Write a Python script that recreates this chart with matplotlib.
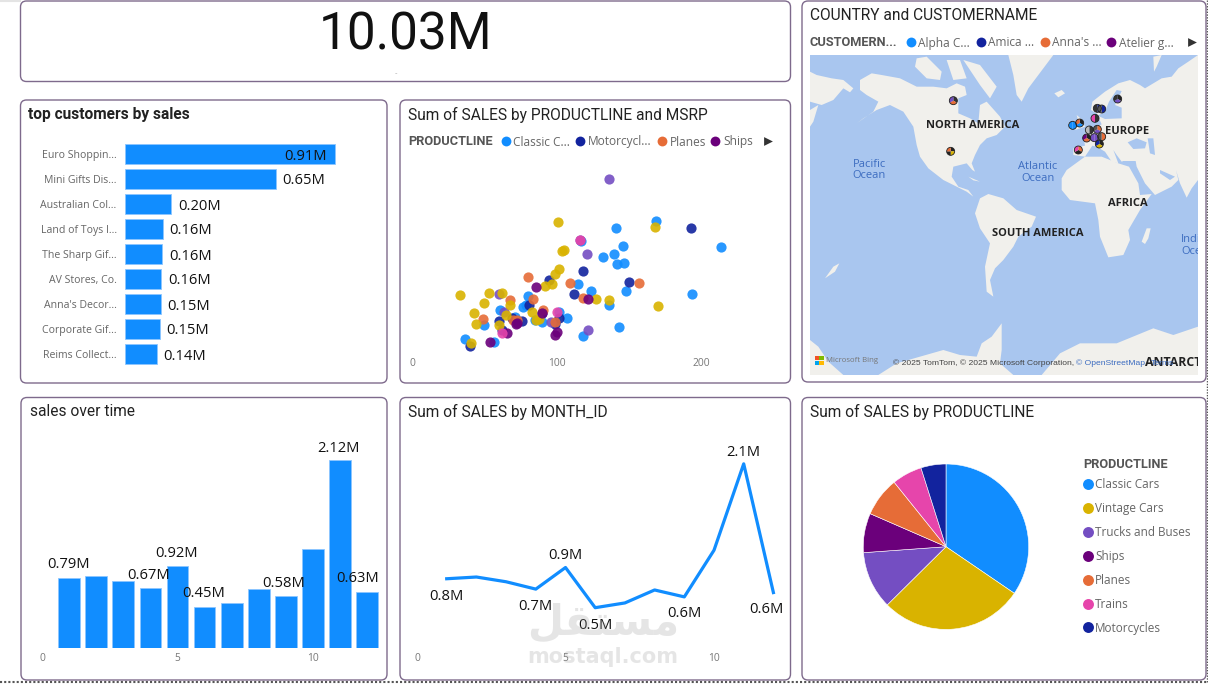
import matplotlib
matplotlib.use('Agg')
import matplotlib.pyplot as plt
from matplotlib.patches import FancyBboxPatch, Polygon, Wedge, Circle, Rectangle

W, H = 1208, 684

# KPI
total_sales = '10.03M'

# top customers
customers = ['Euro Shoppin...', 'Mini Gifts Dis...', 'Australian Col...', 'Land of Toys I...', 'The Sharp Gif...',
             'AV Stores, Co.', "Anna's Decor...", 'Corporate Gif...', 'Reims Collect...']
customer_sales = [0.912, 0.655, 0.201, 0.164, 0.160, 0.158, 0.155, 0.151, 0.138]
customer_labels = ['0.91M', '0.65M', '0.20M', '0.16M', '0.16M', '0.16M', '0.15M', '0.15M', '0.14M']

# monthly sales
months = [1, 2, 3, 4, 5, 6, 7, 8, 9, 10, 11, 12]
month_sales = [0.79, 0.81, 0.755, 0.67, 0.92, 0.455, 0.51, 0.66, 0.58, 1.12, 2.12, 0.63]
bar_label_months = [1, 4, 5, 6, 9, 11, 12]
bar_label_texts = ['0.79M', '0.67M', '0.92M', '0.45M', '0.58M', '2.12M', '0.63M']
line_label_texts = ['0.8M', '0.7M', '0.9M', '0.5M', '0.6M', '2.1M', '0.6M']

# product lines, pie
product_lines = ['Classic Cars', 'Vintage Cars', 'Trucks and Buses', 'Ships', 'Planes', 'Trains', 'Motorcycles']
product_sales = [3.46, 2.81, 1.13, 0.77, 0.77, 0.59, 0.49]
product_colors = ['#118DFF', '#D9B300', '#744EC2', '#6B007B', '#E66C37', '#E645AB', '#12239E']

# scatter, MSRP / sum of sales
classic_x = [169, 141, 214, 146, 140, 132, 142, 147, 115, 124, 148, 194, 136, 143, 118, 117, 80, 77, 61, 71, 107, 85, 90, 102, 50, 37, 57, 79]
classic_y = [408, 387, 329, 331, 309, 298, 279, 281, 217, 196, 198, 188, 155, 90, 62, 347, 181, 148, 140, 120, 115, 110, 105, 133, 96, 54, 43, 155]
motor_x = [193, 118, 150, 95, 112, 81, 60, 69, 76, 102, 99, 62, 40, 90]
motor_y = [387, 257, 223, 229, 188, 156, 108, 116, 106, 116, 98, 80, 33, 130]
trucks_x = [136, 116, 121, 60, 64, 96, 122]
trucks_y = [534, 351, 307, 189, 134, 104, 81]
planes_x = [80, 109, 157, 118, 84, 68, 91, 49, 73, 99, 70]
planes_y = [238, 221, 220, 175, 174, 171, 140, 114, 110, 103, 110]
vintage_x = [101, 168, 104, 105, 102, 99, 97, 92, 53, 62, 33, 50, 68, 127, 136, 170, 83, 43, 65, 86, 88, 44, 60, 41]
vintage_y = [403, 388, 318, 319, 262, 247, 218, 212, 192, 192, 184, 160, 155, 172, 169, 153, 133, 132, 124, 111, 112, 98, 94, 42]
ships_x = [86, 122, 90, 72, 66, 54, 100, 99, 73]
ships_y = [209, 172, 130, 99, 70, 44, 74, 65, 102]
trains_x = [100, 62, 116]
trains_y = [135, 71, 350]

# map outlines
north_america = [(180, 270), (180, 240), (215, 220), (245, 225), (300, 235), (350, 260), (400, 260), (440, 265), (470, 250), (495, 260),
                 (500, 285), (475, 295), (475, 340), (510, 355), (535, 370), (540, 315), (560, 305), (600, 350), (615, 380), (590, 405),
                 (560, 415), (540, 435), (525, 465), (515, 490), (525, 515), (517, 510), (500, 490), (460, 500), (455, 530), (475, 560),
                 (505, 570), (520, 590), (500, 575), (470, 560), (430, 540), (385, 505), (360, 470), (350, 435), (340, 380), (310, 335),
                 (270, 315), (230, 330), (190, 355), (170, 370), (220, 335), (235, 305), (200, 285)]
arctic_a = [(350, 175), (380, 170), (425, 215), (420, 240), (380, 235), (345, 200)]
arctic_b = [(440, 180), (480, 180), (500, 235), (460, 240)]
arctic_c = [(490, 180), (540, 195), (590, 260), (570, 295), (540, 255)]
greenland = [(625, 165), (760, 165), (745, 185), (715, 225), (685, 265), (665, 305), (650, 285), (640, 225)]
iceland = [(763, 280), (785, 270), (795, 280), (775, 292)]
cuba = [(505, 530), (540, 545), (520, 541)]
south_america = [(525, 640), (540, 595), (565, 582), (610, 595), (650, 630), (708, 650), (695, 680), (655, 710), (640, 740), (610, 780),
                 (585, 805), (570, 840), (580, 890), (560, 875), (555, 800), (570, 730), (540, 685)]
africa = [(785, 535), (800, 510), (855, 470), (905, 470), (955, 490), (987, 500), (1015, 550), (1020, 585), (1055, 582), (1020, 630),
          (985, 690), (990, 720), (970, 765), (925, 772), (900, 710), (895, 660), (885, 610), (810, 600), (785, 570)]
madagascar = [(1025, 725), (1040, 685), (1052, 685), (1045, 715), (1035, 732)]
eurasia = [(820, 465), (820, 445), (855, 437), (850, 405), (880, 387), (905, 373), (890, 340), (873, 330), (877, 305), (915, 275),
           (955, 250), (990, 240), (1020, 255), (1035, 265), (1085, 235), (1115, 230), (1135, 205), (1165, 185), (1194, 165),
           (1194, 540), (1175, 565), (1160, 593), (1140, 550), (1128, 510), (1135, 540), (1115, 560), (1065, 585), (1035, 550),
           (1010, 500), (1007, 483), (970, 483), (965, 485), (950, 465), (940, 450), (955, 490), (935, 485), (915, 455), (890, 440),
           (877, 437), (865, 455), (855, 470)]
novaya = [(1060, 170), (1085, 165), (1070, 200), (1062, 215)]
britain = [(830, 345), (847, 360), (855, 380), (825, 390), (837, 370)]
ireland = [(805, 370), (825, 362), (825, 385), (808, 390)]
new_zealand = [(75, 835), (100, 800), (118, 790), (105, 815)]
antarctica_left = [(30, 1020), (55, 1040), (85, 1085), (130, 1125), (30, 1125)]
antarctica_mid = [(235, 1125), (290, 1090), (430, 1050), (480, 1065), (530, 1070), (545, 1030), (575, 1010), (605, 970), (605, 1050),
                  (600, 1090), (640, 1125)]
antarctica_right = [(725, 1125), (780, 1060), (840, 1030), (950, 1030), (1060, 985), (1120, 1005), (1194, 980), (1194, 1125)]
chukotka = [(30, 215), (50, 225), (95, 235), (130, 240), (160, 265), (150, 277), (130, 265), (100, 300), (65, 315), (30, 305)]
kamchatka = [(55, 315), (40, 365), (30, 380), (30, 330)]
land_shapes = [north_america, arctic_a, arctic_b, arctic_c, greenland, iceland, cuba, south_america, africa, madagascar, eurasia, novaya,
               britain, ireland, new_zealand, antarctica_left, antarctica_mid, antarctica_right, chukotka, kamchatka]

baltic = [(893, 347), (915, 335), (927, 305), (950, 270), (965, 273), (945, 315), (965, 323), (965, 355), (915, 357)]
black_sea = [(983, 427), (1010, 415), (1040, 427), (1035, 445), (1000, 447)]
caspian = [(1043, 415), (1060, 415), (1065, 465), (1050, 460)]
persian_gulf = [(1080, 510), (1125, 530), (1110, 540), (1080, 520)]
water_shapes = [baltic, black_sea, caspian, persian_gulf]

# customer bubbles on the map
bubble_x = [460, 452, 953, 892, 905, 885, 839, 818, 868, 892, 860, 883, 905, 898, 835]
bubble_y = [302, 454, 297, 325, 327, 355, 369, 376, 390, 388, 414, 413, 410, 432, 450]
bubble_colors = [['#333333', '#E66C37', '#744EC2'], ['#222222', '#D9B300', '#222222', '#E66C37'], ['#222222', '#744EC2', '#333333'],
                 ['#12239E', '#333333'], ['#12239E', '#555555'], ['#333333', '#E645AB'], ['#222222', '#118DFF', '#E66C37'],
                 ['#118DFF', '#118DFF'], ['#333333', '#BBBBBB'], ['#E66C37', '#744EC2', '#555555'], ['#222222', '#E66C37', '#6B007B'],
                 ['#744EC2', '#744EC2'], ['#E66C37', '#555555'], ['#222222', '#D9B300', '#12239E'], ['#E66C37', '#222222', '#E645AB']]

TITLE_FONT = 'Roboto'
LABEL_FONT = 'Open Sans'
GREY = '#666666'
EDGE = '#7E6A8C'
OCEAN = '#A9C6EF'


def px_axes(x0, y0, x1, y1):
    ax = fig.add_axes([x0 / W, 1 - y1 / H, (x1 - x0) / W, (y1 - y0) / H])
    ax.patch.set_visible(False)
    for s in ax.spines.values():
        s.set_visible(False)
    return ax


fig = plt.figure(figsize=(W / 100, H / 100), dpi=100, facecolor='white')

# backdrop with the cards, titles and legends in pixel coordinates
bg = fig.add_axes([0, 0, 1, 1])
bg.set_xlim(0, W)
bg.set_ylim(H, 0)
bg.axis('off')

cards = [(20.5, 1, 790.5, 81.5), (20.5, 100, 387, 383), (400, 100, 790.5, 383), (802, 1, 1206, 382),
         (21, 397.5, 387, 680), (400, 397.5, 790.5, 680), (802, 397.5, 1206, 680)]
for x0, y0, x1, y1 in cards:
    bg.add_patch(FancyBboxPatch((x0, y0), x1 - x0, y1 - y0, boxstyle='round,pad=0,rounding_size=6',
                                fc='white', ec=EDGE, lw=1))

bg.plot([0, 1206.5], [681.5, 681.5], color='#555555', lw=1.5, ls=(0, (1, 1)))
bg.plot([1206.5, 1206.5], [0, 681.5], color='#555555', lw=1, ls=(0, (1, 1)))
bg.plot([0, 20], [0.5, 0.5], color='#E4E4E4', lw=1.5)

bg.text(406, 35, total_sales, ha='center', va='center', fontsize=37, family=TITLE_FONT, color='#111111')
bg.text(396, 73, '-', ha='center', va='center', fontsize=5, color='#AAAAAA')

titles = [(28.5, 114.5, 'top customers by sales', 'bold'), (408, 114.5, 'Sum of SALES by PRODUCTLINE and MSRP', 'normal'),
          (810, 15, 'COUNTRY and CUSTOMERNAME', 'normal'), (30, 411.5, 'sales over time', 'normal'),
          (408, 411.5, 'Sum of SALES by MONTH_ID', 'normal'), (810, 411.5, 'Sum of SALES by PRODUCTLINE', 'normal')]
for x, y, t, weight in titles:
    bg.text(x, y, t, ha='left', va='center', fontsize=11.2, family=TITLE_FONT, weight=weight, color='#222222')


def inline_legend(title, tx, y, names, colors, mx, lx, arrow_x):
    bg.text(tx, y + 0.5, title, ha='left', va='center', fontsize=9.2, family=TITLE_FONT, weight='bold', color='#555555')
    for name, c, m, l in zip(names, colors, mx, lx):
        bg.scatter([m], [y], s=50, color=c, lw=0)
        bg.text(l, y + 1, name, ha='left', va='center', fontsize=8.6, family=LABEL_FONT, color='#666666')
    bg.scatter([arrow_x], [y], s=40, marker='>', color='#333333', lw=0)


inline_legend('PRODUCTLINE', 408, 141, ['Classic C...', 'Motorcycl...', 'Planes', 'Ships'],
              ['#118DFF', '#12239E', '#E66C37', '#6B007B'], [506, 580, 662, 715], [513, 588, 670, 723], 768)
inline_legend('CUSTOMERN...', 810, 42, ['Alpha C...', 'Amica ...', "Anna's ...", 'Atelier g...'],
              ['#118DFF', '#12239E', '#E66C37', '#6B007B'], [911, 980.5, 1045, 1111], [918, 988, 1052, 1119], 1192)

# pie legend
bg.text(1083, 464.5, 'PRODUCTLINE', ha='left', va='center', fontsize=9.2, family=TITLE_FONT, weight='bold', color='#555555')
for i, (name, c) in enumerate(zip(product_lines, product_colors)):
    yy = 484 + i * 23.9
    bg.scatter([1088], [yy], s=62, color=c, lw=0)
    bg.text(1095, yy + 1, name, ha='left', va='center', fontsize=8.5, family=LABEL_FONT, color='#666666')

# top customers
ax = px_axes(125, 141.5, 375, 366.5)
ax.barh(range(len(customers)), customer_sales, height=0.8, color='#118DFF', edgecolor='#8CC6FF', lw=0.6)
ax.set_xlim(0, 250 / 230)
ax.set_ylim(8.5, -0.5)
ax.set_xticks([])
ax.set_yticks(range(len(customers)), customers, fontsize=7.6, family=LABEL_FONT, color=GREY)
ax.tick_params(axis='y', length=0, pad=6)
for i, (v, t) in enumerate(zip(customer_sales, customer_labels)):
    if v > 0.9:
        ax.annotate(t, (v, i), xytext=(-8, -2), textcoords='offset pixels', ha='right', va='center', fontsize=10.6, family=LABEL_FONT, color='#111111')
    else:
        ax.annotate(t, (v, i), xytext=(7, -2), textcoords='offset pixels', ha='left', va='center', fontsize=10.6, family=LABEL_FONT, color='#111111')

# scatter
ax = px_axes(412, 160, 785, 356.7)
for xs, ys, c in [(classic_x, classic_y, '#118DFF'), (motor_x, motor_y, '#12239E'), (trucks_x, trucks_y, '#744EC2'),
                  (planes_x, planes_y, '#E66C37'), (vintage_x, vintage_y, '#D9B300'), (ships_x, ships_y, '#6B007B'),
                  (trains_x, trains_y, '#E645AB')]:
    ax.scatter(xs, ys, s=54, color=c, alpha=0.9, lw=0, clip_on=False)
ax.set_xlim(0, 373 / 1.445)
ax.set_ylim(0, 590)
ax.set_yticks([])
ax.set_xticks([0, 100, 200], ['0', '100', '200'], fontsize=7.4, family=LABEL_FONT, color='#777777')
ax.tick_params(axis='x', length=0, pad=1)

# sales over time
ax = px_axes(42, 425, 385, 647.7)
ax.bar(months, month_sales, width=0.8, color='#118DFF', edgecolor='#8CC6FF', lw=0.6)
ax.set_xlim(0, 343 / 27.1)
ax.set_ylim(0, 222.7 / 88.5)
ax.set_yticks([])
ax.set_xticks([0, 5, 10], ['0', '5', '10'], fontsize=7.4, family=LABEL_FONT, color='#777777')
ax.tick_params(axis='x', length=0, pad=4)
bar_offsets = [(-1, 13), (-2, 13), (-1, 13), (-1, 14), (-2, 12.5), (-2, 12), (-10, 13)]
for m, t, off in zip(bar_label_months, bar_label_texts, bar_offsets):
    ax.annotate(t, (m, month_sales[m - 1]), xytext=off, textcoords='offset pixels', ha='center', va='center',
                fontsize=10.6, family=LABEL_FONT, color='#111111', annotation_clip=False)

# line
ax = px_axes(417, 425, 785, 647)
ax.plot(months, month_sales, color='#118DFF', lw=2.3, solid_joinstyle='round')
ax.set_xlim(0, 368 / 29.7)
ax.set_ylim(0, 222 / 86.4)
ax.set_yticks([])
ax.set_xticks([0, 5, 10], ['0', '5', '10'], fontsize=7.4, family=LABEL_FONT, color='#777777')
ax.tick_params(axis='x', length=0, pad=4)
line_offsets = [(0, -18), (0, -17), (0, 12.5), (0, -18), (0, -17), (0, 11), (-7, -16.5)]
for m, t, off in zip(bar_label_months, line_label_texts, line_offsets):
    ax.annotate(t, (m, month_sales[m - 1]), xytext=off, textcoords='offset pixels', ha='center', va='center',
                fontsize=10.6, family=LABEL_FONT, color='#111111', annotation_clip=False)

# pie
ax = px_axes(946 - 82.7, 546.7 - 82.7, 946 + 82.7, 546.7 + 82.7)
ax.pie(product_sales, colors=product_colors, startangle=90, counterclock=False, radius=1,
       wedgeprops={'lw': 0.4, 'edgecolor': 'white'})
ax.set_xlim(-1, 1)
ax.set_ylim(-1, 1)

# map, in 3x zoom coordinates of the basemap
ax = px_axes(810, 55, 1198, 375)
ax.patch.set_visible(True)
ax.set_facecolor(OCEAN)
ax.set_xlim(30, 1194)
ax.set_ylim(1125, 165)
ax.set_xticks([])
ax.set_yticks([])
for shape in land_shapes:
    ax.add_patch(Polygon(shape, closed=True, fc='#F1F0EC', ec='none', joinstyle='round'))
for shape in water_shapes:
    ax.add_patch(Polygon(shape, closed=True, fc=OCEAN, ec='none'))
for bx, by, cols in zip(bubble_x, bubble_y, bubble_colors):
    step = 360 / len(cols)
    for j, c in enumerate(cols):
        ax.add_patch(Wedge((bx, by), 12, j * step - 90, (j + 1) * step - 90, fc=c, ec='none', zorder=3))
    ax.add_patch(Circle((bx, by), 12, fc='none', ec='#222222', lw=0.6, zorder=4))

for x, y, t in [(518, 378, 'NORTH AMERICA'), (982, 394, 'EUROPE'), (982, 609, 'AFRICA'), (714, 700, 'SOUTH AMERICA')]:
    ax.text(x, y, t, ha='center', va='center', fontsize=8, family=LABEL_FONT, weight='bold', color='#222222')
for x, y, t in [(208, 510, 'Pacific\nOcean'), (713, 518, 'Atlantic\nOcean')]:
    ax.text(x, y, t, ha='center', va='center', fontsize=8, family=LABEL_FONT, color='#3C6CC0', linespacing=1.1)
ax.text(1144, 737, 'Indian\nOcean', ha='left', va='center', fontsize=8, family=LABEL_FONT, color='#3C6CC0', linespacing=1.1, clip_on=True)
ax.text(1036, 1089, 'ANTARCTICA', ha='left', va='center', fontsize=8.8, family=LABEL_FONT, weight='bold', color='#222222', clip_on=True)
ax.text(280, 1090, '© 2025 TomTom, © 2025 Microsoft Corporation,', ha='left', va='center', fontsize=6.1, family='Liberation Sans', color='#444444')
ax.text(827, 1090, '© OpenStreetMap', ha='left', va='center', fontsize=6.1, family='Liberation Sans', color='#3C6CC0')
ax.text(1052, 1090, 'Terms', ha='left', va='center', fontsize=6.1, family='Liberation Sans', color='#3C6CC0')
ax.text(78, 1083, 'Microsoft Bing', ha='left', va='center', fontsize=5.6, family=LABEL_FONT, color='#777777')
for lx, ly, c in [(44, 1068, '#F25022'), (58, 1068, '#7FBA00'), (44, 1082, '#00A4EF'), (58, 1082, '#FFB900')]:
    ax.add_patch(Rectangle((lx, ly), 13, 13, fc=c, ec='none'))

# watermark
fig.text(603 / W, 1 - 622 / H, '\uFEDE\uFED8\uFE98\uFEB4\uFEE3', ha='center', va='center', fontsize=30, family='DejaVu Sans',
         weight='bold', color='#9A9A9A', alpha=0.25)
fig.text(603 / W, 1 - 657 / H, 'mostaql.com', ha='center', va='center', fontsize=15, family='DejaVu Sans',
         weight='bold', color='#9A9A9A', alpha=0.25)

fig.savefig('out.png', dpi=100, facecolor='white')
